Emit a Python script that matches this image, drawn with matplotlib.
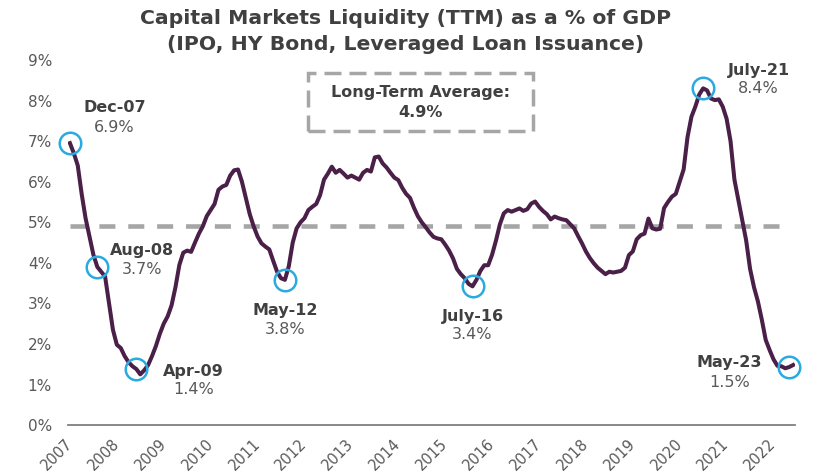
import matplotlib.pyplot as plt
import numpy as np
from matplotlib.patches import Rectangle

# Capital markets liquidity (TTM) as % of GDP, monthly Dec-07 .. May-23
liquidity = [
    6.95, 6.70, 6.40, 5.70, 5.10, 4.65, 4.20, 3.90, 3.78, 3.66, 3.00, 2.35,  # Dec-07..Nov-08
    1.98, 1.90, 1.70, 1.55, 1.45, 1.38, 1.25, 1.35, 1.48, 1.70, 1.95, 2.25,  # Dec-08..Nov-09
    2.50, 2.68, 2.95, 3.40, 3.95, 4.25, 4.30, 4.27, 4.50, 4.72, 4.90, 5.15,
    5.30, 5.45, 5.80, 5.88, 5.92, 6.15, 6.28, 6.30, 6.00, 5.60, 5.20, 4.90,
    4.65, 4.48, 4.40, 4.33, 4.05, 3.78, 3.62, 3.58, 3.92, 4.50, 4.85, 5.00,
    5.10, 5.30, 5.38, 5.45, 5.67, 6.05, 6.20, 6.37, 6.22, 6.29, 6.20, 6.10,
    6.15, 6.10, 6.05, 6.22, 6.29, 6.25, 6.60, 6.62, 6.45, 6.35, 6.22, 6.10,
    6.04, 5.85, 5.70, 5.60, 5.36, 5.15, 5.00, 4.88, 4.75, 4.64, 4.60, 4.58,
    4.45, 4.30, 4.11, 3.85, 3.72, 3.62, 3.48, 3.42, 3.58, 3.80, 3.94, 3.94,
    4.20, 4.55, 4.95, 5.22, 5.30, 5.26, 5.30, 5.34, 5.28, 5.32, 5.46, 5.51,
    5.38, 5.28, 5.20, 5.07, 5.14, 5.10, 5.07, 5.05, 4.95, 4.85, 4.66, 4.48,
    4.28, 4.12, 3.99, 3.88, 3.80, 3.72, 3.78, 3.76, 3.78, 3.80, 3.88, 4.19,
    4.28, 4.58, 4.68, 4.72, 5.09, 4.85, 4.82, 4.84, 5.35, 5.50, 5.63, 5.70,
    6.00, 6.30, 7.10, 7.60, 7.85, 8.15, 8.30, 8.25, 8.05, 8.01, 8.03, 7.85,
    7.55, 7.00, 6.05, 5.55, 5.05, 4.55, 3.85, 3.40, 3.05, 2.60, 2.10, 1.85,
    1.62, 1.46, 1.45, 1.40, 1.43, 1.48,                                        # Dec-22..May-23
]
long_term_avg = 4.9
years = [str(y) for y in range(2007, 2023)]

# highlighted points: month index from Dec-07, label, value text
hl_index = [0, 7, 17, 55, 103, 162, 184]
hl_label = ['Dec-07', 'Aug-08', 'Apr-09', 'May-12', 'July-16', 'July-21', 'May-23']
hl_value = ['6.9%', '3.7%', '1.4%', '3.8%', '3.4%', '8.4%', '1.5%']
# label offsets in points (dx, dy of bold label; dy of value)
hl_offset = [(32, 26, 11), (32, 12, -2), (41, -2, -15), (0, -22, -36),
             (0, -22, -35), (40, 13, 0), (-43, 3, -11)]

purple = '#4a1f48'
blue = '#29abe2'
gray = '#a6a6a6'
dark = '#404040'
mid = '#595959'

x = np.arange(len(liquidity))

fig = plt.figure(figsize=(8.17, 4.76), dpi=100)
ax = fig.add_axes([0.0832, 0.107, 0.8899, 0.767])

ax.plot([x[0], x[-4]], [long_term_avg, long_term_avg], color=gray, lw=3.3,
        linestyle=(0, (3.5, 2.8)), zorder=1)
ax.plot(x, liquidity, color=purple, lw=2.9, zorder=2, solid_joinstyle='round')

for i, lab, val, (dx, dy, dyv) in zip(hl_index, hl_label, hl_value, hl_offset):
    ax.plot(x[i], liquidity[i], 'o', ms=15.5, mfc='none', mec=blue, mew=1.8, zorder=3,
            clip_on=False)
    ax.annotate(lab, (x[i], liquidity[i]), xytext=(dx, dy), textcoords='offset points',
                ha='center', va='center', fontsize=11.5, fontweight='bold', color=dark)
    ax.annotate(val, (x[i], liquidity[i]), xytext=(dx, dyv), textcoords='offset points',
                ha='center', va='center', fontsize=11.5, color=mid)

# long-term average box
ax.add_patch(Rectangle((0.330, 0.806), 0.310, 0.159, transform=ax.transAxes, fill=False,
                       ec=gray, lw=2.5, linestyle=(0, (4.9, 2.3)), clip_on=False))
ax.text(0.485, 0.911, 'Long-Term Average:', transform=ax.transAxes, ha='center',
        va='center', fontsize=11.5, fontweight='bold', color=dark)
ax.text(0.485, 0.856, f'{long_term_avg}%', transform=ax.transAxes, ha='center',
        va='center', fontsize=11.5, fontweight='bold', color=dark)

ax.set_xlim(-0.5, len(liquidity) - 0.5)
ax.set_ylim(0, 9)
ax.set_yticks(range(0, 10))
ax.set_yticklabels([f'{v}%' for v in range(0, 10)])
ax.set_xticks(x[::12][:len(years)])
ax.set_xticklabels(years, rotation=45, ha='right', va='center', rotation_mode='anchor')
ax.tick_params(axis='both', length=0, labelsize=11, labelcolor=mid)
ax.tick_params(axis='x', labelsize=10.5, pad=12)
ax.tick_params(axis='y', pad=11.5)
for s in ['top', 'right', 'left']:
    ax.spines[s].set_visible(False)
ax.spines['bottom'].set_color('#7f7f7f')
ax.spines['bottom'].set_linewidth(1.3)

fig.text(0.497, 0.961, 'Capital Markets Liquidity (TTM) as a % of GDP', ha='center',
         va='center', fontsize=14.7, fontweight='bold', color=dark)
fig.text(0.497, 0.906, '(IPO, HY Bond, Leveraged Loan Issuance)', ha='center',
         va='center', fontsize=14.7, fontweight='bold', color=dark)

fig.savefig('out.png', dpi=100)
